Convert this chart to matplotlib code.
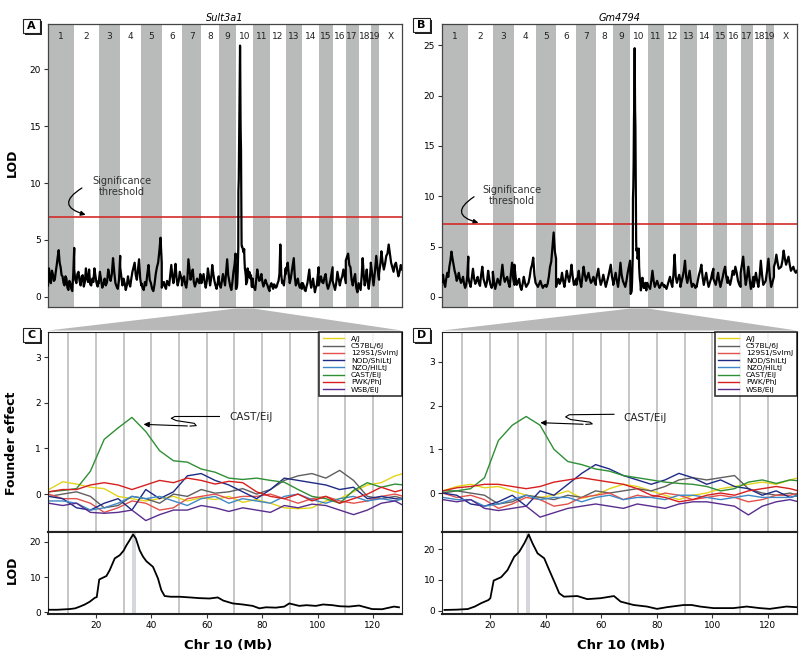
import numpy as np
import matplotlib.pyplot as plt
from matplotlib.patches import Rectangle, Polygon, FancyArrowPatch

plt.rcParams['font.family'] = ['Liberation Sans Narrow', 'DejaVu Sans']

# chromosome names and lengths (Mb)
chrom_names = ['1', '2', '3', '4', '5', '6', '7', '8', '9', '10',
               '11', '12', '13', '14', '15', '16', '17', '18', '19', 'X']
chrom_len = [195, 182, 160, 157, 152, 150, 145, 129, 125, 131,
             122, 120, 120, 125, 104, 98, 95, 91, 61, 171]

# genome scan LOD, read per chromosome (chr10 comes from the zoomed scan)
sult_lod = [
    [1.0, 2.5, 1.6, 1.2, 2.3, 2.0, 1.4, 1.5, 2.2, 2.8, 3.5, 4.1, 3.0, 2.6, 1.9, 1.8, 1.2, 1.0,
     1.8, 1.6, 0.8, 0.6, 1.4, 1.2, 0.7, 0.5, 2.0, 4.3],
    [2.4, 1.5, 1.2, 2.0, 2.2, 1.4, 1.0, 1.8, 1.9, 0.9, 1.3, 2.5, 1.6, 1.3, 2.4, 1.1, 1.0, 1.6,
     1.3, 2.5, 1.8, 1.2, 0.9, 1.4],
    [1.2, 2.2, 1.5, 0.8, 1.1, 1.6, 1.0, 1.3, 2.4, 1.8, 1.4, 2.0, 3.4, 2.2, 1.2, 0.9, 0.7, 1.5, 3.6],
    [2.6, 1.8, 1.0, 1.6, 1.2, 0.6, 1.0, 1.8, 1.2, 0.9, 1.6, 2.2, 2.6, 3.0, 1.9, 1.5, 2.4, 3.3,
     1.6, 1.0],
    [1.2, 0.8, 0.6, 1.3, 1.0, 2.0, 2.8, 1.5, 1.2, 0.7, 0.5, 1.1, 2.0, 2.6, 3.0, 4.0, 5.2, 3.0],
    [0.8, 1.1, 1.3, 0.9, 0.7, 1.4, 1.2, 1.0, 1.9, 2.8, 1.8, 1.2, 2.0, 2.9, 1.6, 1.0, 1.4, 2.2,
     1.8, 1.4],
    [1.0, 1.6, 1.8, 1.1, 0.8, 1.5, 3.3, 2.4, 1.5, 2.0, 2.4, 1.3, 0.9, 1.2, 1.6, 1.4, 1.2, 2.0, 1.5],
    [1.2, 1.6, 2.0, 1.3, 0.8, 1.4, 2.5, 1.8, 1.0, 1.6, 2.8, 2.0, 1.4, 1.0, 0.7, 1.2, 1.8],
    [1.5, 1.0, 0.8, 1.4, 2.0, 1.5, 1.0, 2.2, 3.3, 1.9, 1.4, 0.9, 0.6, 1.3, 2.2, 2.8, 3.8],
    None,
    [1.0, 0.8, 0.6, 1.5, 2.4, 1.8, 1.4, 1.6, 2.0, 1.3, 0.9, 1.2, 1.5, 1.2, 1.0, 0.7, 0.5],
    [0.8, 1.0, 1.2, 0.9, 0.7, 1.1, 1.0, 0.8, 0.9, 1.2, 1.4, 2.0, 4.6, 2.0, 1.2, 1.4, 1.0, 1.8, 2.5],
    [2.0, 2.6, 3.0, 2.0, 1.2, 1.6, 2.2, 2.8, 3.4, 1.8, 1.0, 1.3, 1.6, 1.1, 0.8, 1.0, 1.2],
    [0.7, 1.2, 1.0, 0.6, 0.5, 0.9, 1.2, 1.8, 2.4, 1.3, 0.8, 1.2, 1.6, 1.0, 0.4, 0.8, 1.0, 1.8, 2.6],
    [1.0, 1.4, 1.8, 1.3, 1.2, 1.7, 2.0, 1.1, 0.7, 1.0, 1.4, 2.0, 2.6],
    [1.4, 1.0, 0.6, 1.2, 2.2, 1.6, 1.0, 1.5, 1.8, 2.4, 1.8, 1.2],
    [3.2, 3.5, 3.8, 2.8, 2.6, 1.5, 1.0, 1.6, 2.0, 0.8, 0.4, 1.2],
    [1.2, 0.9, 0.6, 1.8, 3.4, 2.0, 1.0, 1.6, 2.4, 1.2, 0.7, 1.5, 2.8],
    [3.0, 2.0, 1.0, 2.2, 3.6, 2.4, 1.5],
    [2.0, 2.8, 4.0, 3.0, 2.4, 2.9, 3.6, 3.8, 4.6, 3.8, 3.0, 2.6, 2.2, 2.8, 3.0, 2.4, 1.8, 2.2,
     2.8, 2.4],
]
gm_lod = [
    [1.5, 2.2, 1.4, 1.0, 1.8, 2.4, 2.0, 3.0, 3.6, 4.5, 3.8, 3.2, 2.6, 2.2, 1.6, 1.9, 2.4, 1.8,
     1.4, 1.6, 2.0, 1.3, 0.9, 1.2, 2.0, 4.0],
    [2.0, 1.4, 1.0, 1.9, 2.8, 1.8, 1.3, 1.6, 2.0, 1.4, 1.1, 2.2, 3.0, 1.8, 1.4, 1.0, 1.5, 2.6,
     1.8, 1.2, 0.9, 1.3],
    [2.5, 1.5, 0.8, 1.3, 1.8, 1.5, 1.2, 2.2, 3.2, 2.0, 1.5, 1.8, 2.0, 1.4, 1.0, 2.2, 3.4, 1.8, 1.2],
    [3.2, 2.0, 1.2, 1.5, 1.8, 1.0, 0.7, 1.3, 2.0, 1.4, 1.0, 1.2, 1.4, 2.0, 2.8, 3.2, 3.9, 2.2, 1.4],
    [1.4, 1.2, 1.0, 1.3, 1.6, 1.2, 0.9, 1.1, 1.2, 1.0, 1.3, 2.0, 3.0, 3.5, 5.0, 6.4, 4.5, 3.8],
    [1.0, 1.5, 1.8, 1.3, 1.6, 2.4, 1.6, 1.0, 1.8, 2.6, 2.0, 1.5, 2.2, 3.2, 2.0, 1.2, 1.5, 1.8],
    [1.2, 1.8, 2.6, 1.6, 1.0, 2.0, 3.0, 2.2, 1.6, 2.0, 2.4, 1.8, 1.4, 1.6, 2.0, 1.5, 1.2],
    [1.6, 2.2, 2.8, 1.8, 1.2, 1.6, 2.2, 1.6, 1.0, 1.5, 2.0, 2.6, 3.2, 2.0, 1.4],
    [1.2, 1.8, 2.4, 1.6, 1.0, 2.0, 3.4, 2.2, 1.6, 1.3, 1.0, 1.6, 2.4, 3.0, 3.6],
    None,
    [1.2, 1.0, 0.8, 1.6, 2.6, 1.6, 1.0, 1.3, 1.6, 1.2, 0.9, 1.1, 1.4, 1.2, 1.0],
    [1.2, 1.0, 0.8, 1.2, 1.6, 2.0, 1.4, 1.0, 2.2, 4.2, 2.0, 1.4, 1.8, 2.2, 1.6],
    [1.0, 1.5, 2.0, 2.6, 3.6, 2.0, 1.4, 2.0, 2.6, 1.6, 1.0, 1.3, 1.2, 0.9, 1.1],
    [1.0, 1.6, 2.2, 2.6, 3.2, 2.0, 1.2, 1.8, 2.4, 1.6, 1.0, 1.4, 1.8, 2.4, 2.8],
    [1.8, 1.5, 1.2, 1.8, 2.4, 1.6, 1.0, 1.5, 2.0, 2.6, 3.0, 2.0, 1.4],
    [2.0, 1.6, 1.2, 1.8, 2.6, 2.2, 3.0, 2.4, 1.6, 1.2, 1.0],
    [2.4, 3.2, 4.0, 2.4, 1.2, 2.0, 3.0, 1.8, 0.8, 1.4, 2.0],
    [1.0, 1.6, 2.4, 1.6, 1.0, 2.0, 3.6, 2.2, 1.2, 1.4, 1.6],
    [1.6, 2.6, 3.8, 2.0, 1.0, 1.5, 2.0],
    [3.0, 3.4, 4.2, 3.4, 2.8, 2.9, 3.0, 3.6, 4.6, 3.8, 3.2, 3.6, 4.0, 3.2, 2.6, 2.8, 3.0, 2.6,
     2.4, 2.6],
]
sult_threshold = 7.0
gm_threshold = 7.2

# chr10 scans
sult_mb10 = [2.8, 6.0, 10.6, 12.5, 14.2, 16.0, 17.8, 19.6, 20.3, 21.2, 22.5, 23.8,
             25.0, 26.8, 28.6, 30.0, 31.0, 32.2, 33.4, 34.4, 35.8, 37.0, 38.2,
             40.6, 42.4, 43.6, 44.8, 47.0, 50.2, 54.0, 57.4, 61.0, 64.0, 66.0,
             69.4, 73.0, 76.6, 79.0, 81.4, 85.0, 88.0, 89.8, 93.4, 96.0, 99.4,
             102.0, 105.4, 108.0, 111.4, 115.0, 119.7, 123.3, 127.6, 129.4]
sult_lod10 = [0.7, 0.7, 0.9, 1.1, 1.6, 2.2, 3.0, 4.1, 4.3, 9.3, 9.8, 10.3,
              12.0, 15.3, 16.2, 17.5, 19.0, 20.5, 22.1, 21.0, 17.6, 15.8, 14.5,
              12.9, 9.6, 6.3, 4.6, 4.4, 4.4, 4.2, 4.0, 3.9, 4.2, 3.3,
              2.5, 2.2, 1.8, 1.1, 1.4, 1.3, 1.6, 2.5, 1.8, 2.0, 1.8,
              2.2, 2.0, 1.7, 1.6, 1.9, 0.9, 0.85, 1.6, 1.4]
gm_mb10 = [3.6, 8.0, 12.0, 14.5, 16.8, 19.4, 20.1, 21.3, 24.0, 26.3, 28.7,
           30.5, 32.3, 33.9, 35.3, 37.1, 39.5, 41.3, 43.1, 44.9, 46.6, 51.4,
           55.0, 59.8, 64.6, 67.0, 71.7, 76.5, 80.1, 83.7, 89.7, 92.6, 95.6,
           100.4, 107.6, 112.4, 117.1, 120.7, 126.7, 130.3]
gm_lod10 = [0.3, 0.4, 0.6, 1.4, 2.5, 3.5, 4.1, 9.8, 10.9, 13.2, 17.5,
            19.1, 21.8, 24.7, 21.8, 18.6, 17.0, 13.2, 9.5, 5.7, 4.6, 4.8,
            3.8, 4.1, 4.8, 3.0, 1.9, 1.4, 0.65, 1.2, 1.9, 1.9, 1.4,
            0.9, 0.9, 1.4, 0.9, 0.65, 1.4, 1.2]
peak_interval = (33.0, 34.3)

# founder effects on chr10
strains = ['A/J', 'C57BL/6J', '129S1/SvImJ', 'NOD/ShiLtJ', 'NZO/HlLtJ',
           'CAST/EiJ', 'PWK/PhJ', 'WSB/EiJ']
strain_colors = ['#e3d41a', '#5f5f5f', '#e2514c', '#1f2a86', '#3f88c5',
                 '#2f8f35', '#d71f1f', '#5a2d8e']
founder_mb = [3, 8, 13, 18, 23, 28, 33, 38, 43, 48, 53, 58, 63, 68, 73, 78,
              83, 88, 93, 98, 103, 108, 113, 118, 123, 128, 131]
sult_effects = [
    [0.10, 0.27, 0.22, 0.15, 0.12, -0.05, -0.10, -0.15, -0.10, -0.05, -0.15, -0.08, -0.12, -0.05,
     -0.18, -0.12, -0.20, -0.30, -0.32, -0.30, -0.15, -0.10, 0.05, 0.20, 0.25, 0.40, 0.45],
    [-0.05, 0.0, 0.05, -0.05, -0.30, -0.25, -0.05, -0.10, -0.20, 0.0, -0.05, 0.10, 0.02, 0.05,
     0.12, 0.0, 0.10, 0.30, 0.40, 0.45, 0.35, 0.52, 0.30, -0.05, -0.10, -0.05, -0.10],
    [0.0, -0.10, -0.10, -0.20, -0.40, -0.30, -0.15, -0.20, -0.35, -0.30, -0.10, -0.05, 0.0, -0.10,
     -0.05, -0.05, 0.0, -0.10, -0.20, -0.10, -0.05, -0.15, -0.20, -0.15, -0.05, 0.0, -0.05],
    [-0.05, -0.10, -0.30, -0.35, -0.20, -0.10, -0.35, 0.10, -0.10, 0.05, 0.40, 0.45, 0.30, 0.20,
     0.05, -0.10, 0.10, 0.35, 0.30, 0.25, 0.20, 0.10, 0.15, -0.10, -0.05, -0.10, -0.12],
    [-0.15, -0.15, -0.20, -0.35, -0.30, -0.20, -0.05, -0.10, -0.05, -0.15, -0.25, -0.10, -0.05, -0.20,
     -0.10, -0.15, -0.20, -0.05, 0.0, -0.12, -0.20, -0.10, -0.05, -0.15, -0.10, -0.15, -0.10],
    [0.05, 0.08, 0.12, 0.50, 1.20, 1.45, 1.68, 1.37, 0.95, 0.73, 0.70, 0.55, 0.48, 0.35,
     0.32, 0.35, 0.30, 0.26, 0.10, -0.05, -0.10, -0.20, 0.08, 0.25, 0.15, 0.22, 0.20],
    [0.05, 0.10, 0.10, 0.20, 0.25, 0.20, 0.10, 0.20, 0.30, 0.25, 0.35, 0.30, 0.22, 0.28,
     0.25, 0.05, -0.05, -0.10, 0.0, -0.15, -0.05, -0.20, -0.10, 0.0, 0.15, 0.05, 0.10],
    [-0.20, -0.25, -0.20, -0.40, -0.42, -0.40, -0.35, -0.58, -0.45, -0.35, -0.35, -0.25, -0.30, -0.38,
     -0.30, -0.35, -0.40, -0.25, -0.30, -0.22, -0.25, -0.35, -0.45, -0.35, -0.20, -0.15, -0.25],
]
gm_effects = [
    [0.05, 0.15, 0.20, 0.12, 0.15, 0.05, -0.05, -0.10, -0.05, 0.05, -0.12, -0.05, 0.10, 0.20,
     0.15, 0.05, -0.05, -0.15, -0.05, 0.0, 0.10, 0.15, 0.20, 0.25, 0.20, 0.30, 0.35],
    [0.0, 0.05, 0.0, -0.05, -0.25, -0.20, -0.05, -0.10, -0.15, -0.05, -0.10, 0.05, 0.0, 0.05,
     0.10, 0.05, 0.15, 0.30, 0.35, 0.30, 0.35, 0.40, 0.10, 0.0, -0.05, 0.0, -0.05],
    [0.0, -0.10, -0.05, -0.15, -0.35, -0.25, -0.10, -0.15, -0.30, -0.25, -0.10, -0.05, 0.0, -0.15,
     -0.05, -0.10, 0.0, -0.05, -0.15, -0.10, -0.05, -0.10, -0.20, -0.15, -0.05, -0.05, 0.0],
    [0.0, -0.05, -0.25, -0.30, -0.20, -0.05, -0.30, 0.05, -0.05, 0.20, 0.45, 0.65, 0.55, 0.40,
     0.30, 0.20, 0.30, 0.45, 0.35, 0.20, 0.30, 0.15, 0.10, -0.05, 0.05, -0.10, -0.05],
    [-0.10, -0.15, -0.15, -0.30, -0.25, -0.15, -0.05, -0.15, -0.10, -0.10, -0.20, -0.10, -0.05, -0.15,
     -0.10, -0.10, -0.15, -0.05, -0.05, -0.10, -0.15, -0.10, -0.05, -0.10, -0.10, -0.10, -0.05],
    [0.05, 0.05, 0.10, 0.35, 1.20, 1.55, 1.75, 1.55, 1.00, 0.72, 0.65, 0.55, 0.50, 0.40,
     0.35, 0.30, 0.25, 0.22, 0.20, 0.15, 0.05, 0.10, 0.25, 0.30, 0.22, 0.30, 0.28],
    [0.05, 0.12, 0.15, 0.20, 0.20, 0.15, 0.10, 0.15, 0.25, 0.30, 0.35, 0.30, 0.25, 0.20,
     0.10, -0.05, -0.10, -0.20, -0.15, -0.05, 0.0, -0.05, 0.05, 0.10, 0.15, 0.10, 0.05],
    [-0.15, -0.20, -0.15, -0.35, -0.40, -0.35, -0.30, -0.55, -0.45, -0.35, -0.30, -0.25, -0.30, -0.35,
     -0.25, -0.30, -0.35, -0.25, -0.20, -0.20, -0.25, -0.30, -0.50, -0.30, -0.20, -0.15, -0.20],
]

band_gray = '#b9baba'
grid_gray = '#c6c6c6'
small = 6.5

starts = np.concatenate([[0], np.cumsum(chrom_len)[:-1]])
total_len = sum(chrom_len)


def genome_scan(ax, lods, mb10, lod10, threshold, ylim, yticks, title):
    xs, ys = [], []
    for i, vals in enumerate(lods):
        if vals is None:
            xs.append(starts[i] + np.array(mb10))
            ys.append(np.array(lod10))
        else:
            xs.append(np.linspace(starts[i], starts[i] + chrom_len[i], len(vals)))
            ys.append(np.array(vals))
    for i in range(0, len(chrom_len), 2):
        ax.axvspan(starts[i], starts[i] + chrom_len[i], color=band_gray, lw=0, zorder=0)
    for i, name in enumerate(chrom_names):
        ax.text(starts[i] + chrom_len[i] / 2, 0.955, name, transform=ax.get_xaxis_transform(),
                ha='center', va='center', fontsize=small, color='#222222')
    ax.plot(np.concatenate(xs), np.concatenate(ys), color='black', lw=1.6, zorder=3)
    ax.axhline(threshold, color='#d42b2b', lw=1.2, zorder=2)
    ax.set_xlim(0, total_len)
    ax.set_ylim(*ylim)
    ax.set_yticks(yticks)
    ax.set_xticks([])
    ax.tick_params(axis='y', labelsize=small, length=3, color='#333333', pad=2)
    ax.set_title(title, style='italic', fontsize=7, pad=2)
    for s in ax.spines.values():
        s.set_color('#444444')
        s.set_linewidth(0.9)


def founder_panel(ax, effects, ylim, legend):
    ax.set_xticks(range(10, 130, 10), minor=True)
    ax.set_xticks([])
    ax.grid(True, which='minor', axis='x', color=grid_gray, lw=1.4, zorder=0)
    ax.tick_params(which='minor', length=0)
    for vals, name, col in zip(effects, strains, strain_colors):
        ax.plot(founder_mb, vals, color=col, lw=1.0, label=name, zorder=2)
    ax.set_xlim(2.7, 130.5)
    ax.set_ylim(*ylim)
    ax.set_yticks([0, 1, 2, 3])
    ax.tick_params(axis='y', labelsize=small, length=3, color='#333333', pad=2)
    if legend:
        leg = ax.legend(loc='upper right', fontsize=5.4, frameon=True, fancybox=False,
                        edgecolor='black', borderaxespad=0, handlelength=2.8,
                        labelspacing=0.13, borderpad=0.5, handletextpad=0.9)
        leg.get_frame().set_linewidth(1.2)
    for s in ax.spines.values():
        s.set_color('#222222')
    ax.spines['bottom'].set_linewidth(1.5)


def lod_panel(ax, mb10, lod10, ylim):
    ax.set_xticks(range(10, 130, 10), minor=True)
    ax.grid(True, which='minor', axis='x', color=grid_gray, lw=1.4, zorder=0)
    ax.axvspan(*peak_interval, color='#d4d8dd', lw=0, zorder=1)
    ax.plot(mb10, lod10, color='black', lw=1.3, zorder=3)
    ax.set_xlim(2.7, 130.5)
    ax.set_ylim(*ylim)
    ax.set_xticks(range(20, 130, 20))
    ax.set_yticks([0, 10, 20])
    ax.tick_params(labelsize=small, length=3, color='#333333', pad=2)
    ax.tick_params(which='minor', length=0)
    for s in ax.spines.values():
        s.set_color('#222222')
    ax.spines['top'].set_linewidth(1.5)
    ax.spines['bottom'].set_linewidth(1.5)


fig = plt.figure(figsize=(8, 6.58), dpi=100)

axA = fig.add_axes([0.06, 0.5334, 0.4425, 0.4301])
axB = fig.add_axes([0.5525, 0.5334, 0.44375, 0.4301])
axC = fig.add_axes([0.06, 0.1915, 0.4425, 0.3039])
axC2 = fig.add_axes([0.06, 0.0669, 0.4425, 0.1246])
axD = fig.add_axes([0.5525, 0.1915, 0.44375, 0.3039])
axD2 = fig.add_axes([0.5525, 0.0669, 0.44375, 0.1246])

genome_scan(axA, sult_lod, sult_mb10, sult_lod10, sult_threshold, (-0.9, 24.0),
            [0, 5, 10, 15, 20], 'Sult3a1')
genome_scan(axB, gm_lod, gm_mb10, gm_lod10, gm_threshold, (-1.0, 27.1),
            [0, 5, 10, 15, 20, 25], 'Gm4794')
founder_panel(axC, sult_effects, (-0.83, 3.55), True)
founder_panel(axD, gm_effects, (-0.89, 3.68), True)
lod_panel(axC2, sult_mb10, sult_lod10, (-0.5, 22.8))
lod_panel(axD2, gm_mb10, gm_lod10, (-1.0, 25.5))

# significance threshold notes
axA.text(550, 9.7, 'Significance\nthreshold', ha='center', va='center', fontsize=7,
         color='#333333', linespacing=1.1)
axA.add_patch(FancyArrowPatch((270, 9.7), (300, 7.15), connectionstyle='arc3,rad=1.2',
                              arrowstyle='-|>', mutation_scale=7, lw=0.9, color='black'))
axB.text(519, 10.1, 'Significance\nthreshold', ha='center', va='center', fontsize=7,
         color='#333333', linespacing=1.1)
axB.add_patch(FancyArrowPatch((255, 10.1), (290, 7.3), connectionstyle='arc3,rad=1.2',
                              arrowstyle='-|>', mutation_scale=7, lw=0.9, color='black'))

# CAST/EiJ notes
axC.text(68.0, 1.69, 'CAST/EiJ', ha='left', va='center', fontsize=7.5, color='#222222')
axC.plot([64.6, 48.5, 47.2, 49.0, 55.5, 56.2, 54.0], [1.70, 1.70, 1.66, 1.61, 1.55, 1.50, 1.49],
         color='black', lw=0.8)
axC.annotate('', xy=(36.2, 1.53), xytext=(54.0, 1.49),
             arrowprops=dict(arrowstyle='-|>', lw=0.8, color='black', mutation_scale=8))
axD.text(67.9, 1.71, 'CAST/EiJ', ha='left', va='center', fontsize=7.5, color='#222222')
axD.plot([64.6, 48.5, 47.2, 49.0, 56.0, 56.8, 54.5], [1.80, 1.79, 1.74, 1.68, 1.62, 1.58, 1.57],
         color='black', lw=0.8)
axD.annotate('', xy=(37.1, 1.61), xytext=(54.5, 1.57),
             arrowprops=dict(arrowstyle='-|>', lw=0.8, color='black', mutation_scale=8))

# grey wedge from chr10 down to the zoomed panels
to_fig = fig.transFigure.inverted()
for top_ax, bot_ax in [(axA, axC), (axB, axD)]:
    xa = to_fig.transform(top_ax.transData.transform((starts[9], 0)))[0]
    xb = to_fig.transform(top_ax.transData.transform((starts[9] + chrom_len[9], 0)))[0]
    p = bot_ax.get_position()
    y_top = top_ax.get_position().y0 - 1.5 / 658
    y_bot = p.y1 + 1.5 / 658
    fig.patches.append(Polygon([(xa, y_top), (xb, y_top), (p.x1, y_bot), (p.x0, y_bot)],
                               closed=True, transform=fig.transFigure, fc='#b8b8b8', ec='none'))

# panel letters
for letter, px, py in [('A', 23, 19), ('B', 413, 18), ('C', 23, 328), ('D', 413, 328)]:
    x0 = px / 800
    y0 = 1 - (py + 14) / 658
    fig.patches.append(Rectangle((x0 + 2 / 800, y0 - 2 / 658), 17 / 800, 14 / 658,
                                 transform=fig.transFigure, fc='#222222', ec='none'))
    fig.patches.append(Rectangle((x0, y0), 17 / 800, 14 / 658, transform=fig.transFigure,
                                 fc='white', ec='#222222', lw=0.8))
    fig.text(x0 + 8.5 / 800, y0 + 7 / 658, letter, ha='center', va='center',
             fontsize=8, fontweight='bold')

# axis labels
fig.text(0.015, 1 - 163 / 658, 'LOD', rotation=90, ha='center', va='center',
         fontsize=9, fontweight='bold')
fig.text(0.015, 1 - 443 / 658, 'Founder effect', rotation=90, ha='center', va='center',
         fontsize=9, fontweight='bold')
fig.text(0.015, 1 - 570 / 658, 'LOD', rotation=90, ha='center', va='center',
         fontsize=9, fontweight='bold')
fig.text(228 / 800, 1 - 646 / 658, 'Chr 10 (Mb)', ha='center', va='center',
         fontsize=9.5, fontweight='bold')
fig.text(621 / 800, 1 - 646 / 658, 'Chr 10 (Mb)', ha='center', va='center',
         fontsize=9.5, fontweight='bold')

fig.savefig('out.png', dpi=100)
